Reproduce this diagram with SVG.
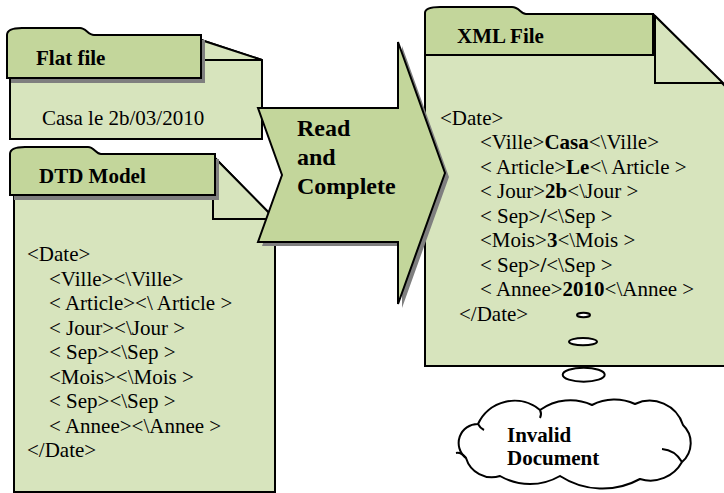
<svg xmlns="http://www.w3.org/2000/svg" width="724" height="493" viewBox="0 0 724 493">
  <style>
    .body { fill: #d7e4bd; stroke: #000; stroke-width: 2; stroke-linejoin: miter; }
    .tab { fill: #c3d69b; stroke: #000; stroke-width: 2; }
    .shadow { fill: #7f7f7f; stroke: none; }
    .lbl { font-family: "Liberation Serif", "Times New Roman", serif; font-size: 21px; font-weight: bold; fill: #000; }
    .txt { font-family: "Liberation Serif", "Times New Roman", serif; font-size: 21px; fill: #000; }
    .b { font-weight: bold; }
    .big { font-family: "Liberation Serif", "Times New Roman", serif; font-size: 24px; font-weight: bold; fill: #000; }
    .bubble { fill: #fff; stroke: #000; stroke-width: 2; }
    .hook { fill: none; stroke: #000; stroke-width: 2; }
  </style>
  <rect width="724" height="493" fill="#fff"/>

  <!-- Flat file document -->
  <g id="flat-file">
    <path class="body" d="M10,40 L201,40 L262,60 L262,139 L10,139 Z"/>
    <path class="body" d="M201,40 L201,60 L262,60 Z"/>
    <path class="shadow" transform="translate(4,5)" d="M7,78 L7,35 C7,30 12,28 22,28 L80,28 C86,28 88,35 94,35 L201,35 L201,78 Z"/>
    <path class="tab" d="M7,78 L7,35 C7,30 12,28 22,28 L80,28 C86,28 88,35 94,35 L201,35 L201,78 Z"/>
    <text class="lbl" x="36" y="65">Flat file</text>
    <text class="txt" x="42" y="125">Casa le 2b/03/2010</text>
  </g>

  <!-- DTD model document -->
  <g id="dtd-model">
    <path class="body" d="M14,156 L213,156 L275,219 L275,492 L14,492 Z"/>
    <path class="body" d="M213,156 L213,219 L275,219 Z"/>
    <path class="shadow" transform="translate(4,5)" d="M10,195 L10,154 C10,149 15,147 25,147 L88,147 C94,147 96,154 101,154 L215,154 L215,195 Z"/>
    <path class="tab" d="M10,195 L10,154 C10,149 15,147 25,147 L88,147 C94,147 96,154 101,154 L215,154 L215,195 Z"/>
    <text class="lbl" x="39" y="183">DTD Model</text>
    <text class="txt" x="27" y="261">&lt;Date&gt;</text>
    <text class="txt" x="49" y="285.5">&lt;Ville&gt;&lt;\Ville&gt;</text>
    <text class="txt" x="49" y="310">&lt; Article&gt;&lt;\ Article &gt;</text>
    <text class="txt" x="49" y="334.5">&lt; Jour&gt;&lt;\Jour &gt;</text>
    <text class="txt" x="49" y="359">&lt; Sep&gt;&lt;\Sep &gt;</text>
    <text class="txt" x="49" y="383.5">&lt;Mois&gt;&lt;\Mois &gt;</text>
    <text class="txt" x="49" y="408">&lt; Sep&gt;&lt;\Sep &gt;</text>
    <text class="txt" x="49" y="432.5">&lt; Annee&gt;&lt;\Annee &gt;</text>
    <text class="txt" x="27" y="457">&lt;/Date&gt;</text>
  </g>

  <!-- XML output document -->
  <g id="xml-file">
    <path class="body" d="M425,16 L655,16 L730,91 L730,366 L425,366 Z"/>
    <path class="body" d="M655,16 L655,83 L723,83 Z"/>
    <path class="tab" d="M425,55 L425,13 C425,9 430,7 440,7 L512,7 C519,7 521,14 526,14 L653,14 L653,55 Z"/>
    <text class="lbl" x="457" y="43">XML File</text>
    <text class="txt" x="440" y="124.5">&lt;Date&gt;</text>
    <text class="txt" x="480" y="149">&lt;Ville&gt;<tspan class="b">Casa</tspan>&lt;\Ville&gt;</text>
    <text class="txt" x="480" y="173.5">&lt; Article&gt;<tspan class="b">Le</tspan>&lt;\ Article &gt;</text>
    <text class="txt" x="480" y="198">&lt; Jour&gt;<tspan class="b">2b</tspan>&lt;\Jour &gt;</text>
    <text class="txt" x="480" y="222.5">&lt; Sep&gt;<tspan class="b">/</tspan>&lt;\Sep &gt;</text>
    <text class="txt" x="480" y="247">&lt;Mois&gt;<tspan class="b">3</tspan>&lt;\Mois &gt;</text>
    <text class="txt" x="480" y="271.5">&lt; Sep&gt;<tspan class="b">/</tspan>&lt;\Sep &gt;</text>
    <text class="txt" x="480" y="296">&lt; Annee&gt;<tspan class="b">2010</tspan>&lt;\Annee &gt;</text>
    <text class="txt" x="459" y="320.5">&lt;/Date&gt;</text>
  </g>

  <!-- Process arrow -->
  <g id="read-complete">
    <path class="shadow" transform="translate(4,4)" d="M258,108 L398,108 L398,42 L445,173 L398,304 L398,242 L258,242 L282,175 Z"/>
    <path class="tab" d="M258,108 L398,108 L398,42 L445,173 L398,304 L398,242 L258,242 L282,175 Z"/>
    <text class="big" x="297" y="136">Read</text>
    <text class="big" x="297" y="165">and</text>
    <text class="big" x="297" y="194">Complete</text>
  </g>

  <!-- Thought bubble trail -->
  <g id="connectors">
    <ellipse class="bubble" cx="583.5" cy="315" rx="6.5" ry="2.2" stroke-width="1.8"/>
    <ellipse class="bubble" cx="583" cy="341.7" rx="14" ry="3.6"/>
    <ellipse class="bubble" cx="583.7" cy="374.7" rx="21" ry="7"/>
  </g>

  <!-- Result cloud -->
  <g id="invalid-document">
    <path class="bubble" d="M478,424 A40,40 0 0 1 540,410 A52,52 0 0 1 592,405 A49,49 0 0 1 635,404 A35,35 0 0 1 683,425 A25,25 0 0 1 682,462 A36,36 0 0 1 640,479 A78,78 0 0 1 560,476 A60,60 0 0 1 500,476 A27,27 0 0 1 466,458 A19,19 0 0 1 478,424 Z"/>
    <path class="hook" d="M662,449 Q675,450 682,462"/>
    <path class="hook" d="M540,410 Q542,414 540,418"/>
    <path class="hook" d="M466,458 Q461,452 456,453"/>
    <path class="hook" d="M478,424 Q480,428 484,430"/>
    <text class="lbl" x="507" y="442">Invalid</text>
    <text class="lbl" x="507" y="465">Document</text>
  </g>
</svg>
